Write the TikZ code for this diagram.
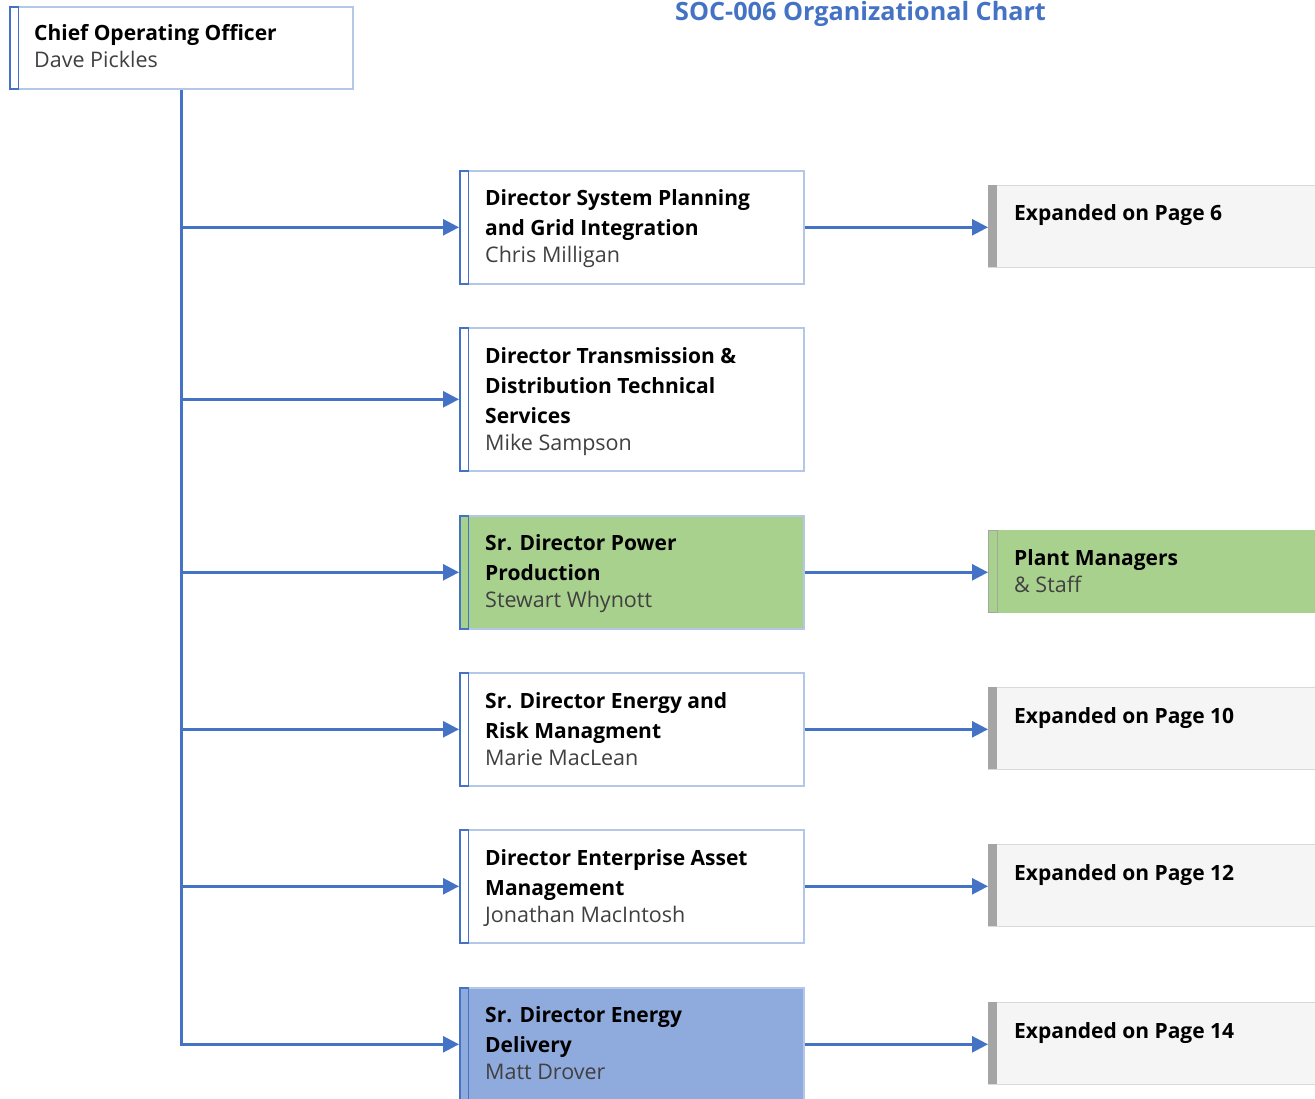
\documentclass[tikz,border=0pt]{standalone}
\usepackage{fontspec}
\setmainfont{Open Sans}
\usetikzlibrary{arrows.meta}
\definecolor{accent}{HTML}{4472C4}
\definecolor{lightborder}{HTML}{B4C7E7}
\definecolor{namegray}{HTML}{404040}
\definecolor{greenfill}{HTML}{A9D18E}
\definecolor{bluefill}{HTML}{8FAADC}
\definecolor{grayfill}{HTML}{F5F5F5}
\definecolor{grayborder}{HTML}{D9D9D9}
\definecolor{graybar}{HTML}{A5A5A5}
\tikzset{
  mainbox/.style={draw=lightborder, line width=1.6pt, fill=white, rectangle, inner sep=0pt, anchor=north west},
  bluebar/.style={draw=accent, line width=1.6pt, rectangle, inner sep=0pt, anchor=north west, minimum width=8.5},
  sidebox/.style={draw=grayborder, line width=1.2pt, fill=grayfill, rectangle, inner sep=0pt, anchor=north west, minimum width=340, minimum height=82},
  sidebar/.style={fill=graybar, rectangle, inner sep=0pt, anchor=north west, minimum width=9, minimum height=82},
  txt/.style={anchor=base west, align=left, inner sep=0pt, font=\fontsize{21}{30}\selectfont},
  conn/.style={draw=accent, line width=2.6pt},
  arr/.style={conn, -{Triangle[length=16pt,width=16pt]}},
}
\newcommand{\who}[1]{{\color{namegray}\fontsize{21.5}{30}\fontseries{m}\selectfont #1}}
\begin{document}
\begin{tikzpicture}[x=1pt,y=-1pt]
\useasboundingbox (0,0) rectangle (1315,1099);
% title
\node[anchor=base west, inner sep=0pt, font=\fontsize{25.2}{30}\selectfont\bfseries, text=accent] (title) at (675,21) {SOC-006 Organizational Chart};
% CEO
\node[mainbox, minimum width=343, minimum height=82] (ceo) at (9,6) {};
\node[bluebar, fill=white, minimum height=82] (ceobar) at (ceo.north west) {};
\node[txt] (ceot) at (34,68) {\textbf{Chief Operating Officer}\\[-3pt]\who{Dave Pickles}};
% directors
\node[mainbox, minimum width=344, minimum height=113] (d1) at (459,170) {};
\node[bluebar, fill=white, minimum height=113] (d1bar) at (d1.north west) {};
\node[txt] (d1t) at (485,263) {\textbf{Director System Planning}\\\textbf{and Grid Integration}\\[-3pt]\who{Chris Milligan}};

\node[mainbox, minimum width=344, minimum height=143] (d2) at (459,327) {};
\node[bluebar, fill=white, minimum height=143] (d2bar) at (d2.north west) {};
\node[txt] (d2t) at (485,450) {\textbf{Director Transmission \&}\\\textbf{Distribution Technical}\\\textbf{Services}\\[-3pt]\who{Mike Sampson}};

\node[mainbox, fill=greenfill, minimum width=344, minimum height=113] (d3) at (459,515) {};
\node[bluebar, fill=greenfill, minimum height=113] (d3bar) at (d3.north west) {};
\node[txt] (d3t) at (485,607) {\textbf{Sr. Director Power}\\\textbf{Production}\\[-3pt]\who{Stewart Whynott}};

\node[mainbox, minimum width=344, minimum height=113] (d4) at (459,672) {};
\node[bluebar, fill=white, minimum height=113] (d4bar) at (d4.north west) {};
\node[txt] (d4t) at (485,765) {\textbf{Sr. Director Energy and}\\\textbf{Risk Managment}\\[-3pt]\who{Marie MacLean}};

\node[mainbox, minimum width=344, minimum height=113] (d5) at (459,829) {};
\node[bluebar, fill=white, minimum height=113] (d5bar) at (d5.north west) {};
\node[txt] (d5t) at (485,922) {\textbf{Director Enterprise Asset}\\\textbf{Management}\\[-3pt]\who{Jonathan MacIntosh}};

\node[mainbox, fill=bluefill, minimum width=344, minimum height=113] (d6) at (459,987) {};
\node[bluebar, fill=bluefill, minimum height=113] (d6bar) at (d6.north west) {};
\node[txt] (d6t) at (485,1079) {\textbf{Sr. Director Energy}\\\textbf{Delivery}\\[-3pt]\who{Matt Drover}};
% side boxes
\node[sidebox] (r1) at (988,185) {};
\node[sidebar] (r1bar) at (r1.north west) {};
\node[txt] (r1t) at (1014,221) {\textbf{Expanded on Page 6}};

\node[sidebox, fill=greenfill, draw=greenfill] (r3) at (988,530) {};
\node[sidebar, fill=greenfill, draw=graybar, line width=1pt] (r3bar) at (r3.north west) {};
\node[txt] (r3t) at (1014,592) {\textbf{Plant Managers}\\[-3pt]\who{\& Staff}};

\node[sidebox] (r4) at (988,687) {};
\node[sidebar] (r4bar) at (r4.north west) {};
\node[txt] (r4t) at (1014,723) {\textbf{Expanded on Page 10}};

\node[sidebox] (r5) at (988,844) {};
\node[sidebar] (r5bar) at (r5.north west) {};
\node[txt] (r5t) at (1014,880) {\textbf{Expanded on Page 12}};

\node[sidebox] (r6) at (988,1002) {};
\node[sidebar] (r6bar) at (r6.north west) {};
\node[txt] (r6t) at (1014,1038) {\textbf{Expanded on Page 14}};
% connectors
\draw[arr] (ceo.south) |- (d6.west);
\foreach \d in {d1,d2,d3,d4,d5} \draw[arr] (ceo.south |- \d.west) -- (\d.west);
\draw[arr] (d1.east) -- (d1.east -| r1.west);
\draw[arr] (d3.east) -- (d3.east -| r3.west);
\draw[arr] (d4.east) -- (d4.east -| r4.west);
\draw[arr] (d5.east) -- (d5.east -| r5.west);
\draw[arr] (d6.east) -- (d6.east -| r6.west);
\end{tikzpicture}
\end{document}
